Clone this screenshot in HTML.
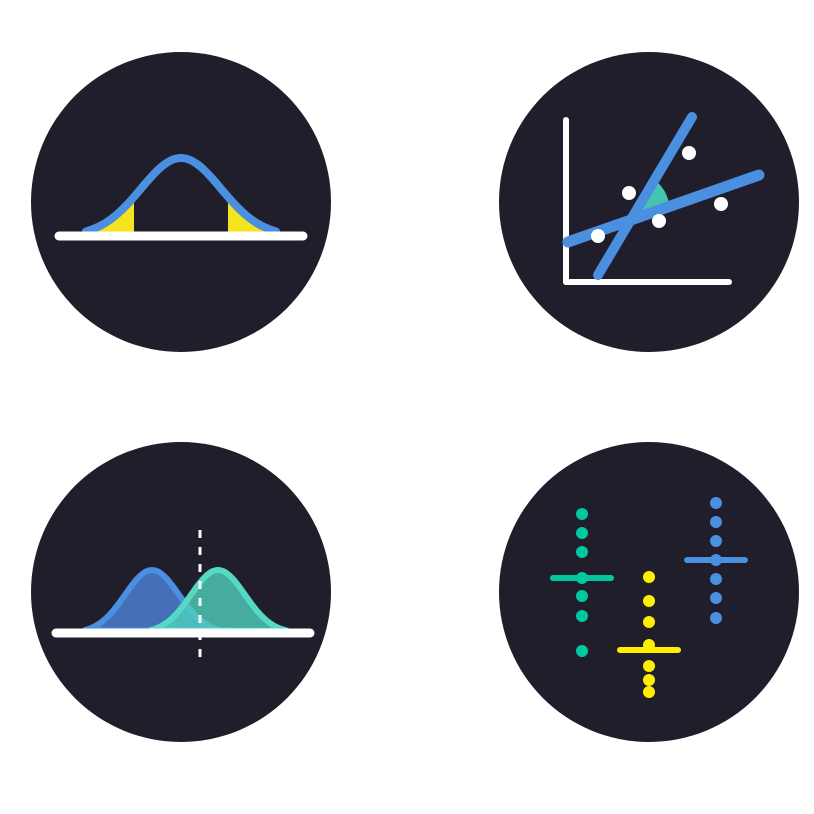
<!DOCTYPE html>
<html><head><meta charset="utf-8"><style>
html,body{margin:0;padding:0;background:#fff;width:814px;height:814px;overflow:hidden}
svg{display:block}
</style></head><body>
<svg id="s" width="814" height="814" viewBox="0 0 814 814">
<circle cx="181" cy="202" r="150" fill="#1f1e2a"/>
<circle cx="649" cy="202" r="150" fill="#1f1e2a"/>
<circle cx="181" cy="592" r="150" fill="#1f1e2a"/>
<circle cx="649" cy="592" r="150" fill="#1f1e2a"/>
<g id="g1"></g>
<g id="g2">
<line x1="566" y1="120" x2="566" y2="282" stroke="#fff" stroke-width="6" stroke-linecap="round"/>
<line x1="566" y1="282" x2="729" y2="282" stroke="#fff" stroke-width="6" stroke-linecap="round"/>
<path d="M628,218 L652,178 A40,40 0 0 1 669,203 Z" fill="#45c4b0"/>
<line x1="598" y1="275" x2="692" y2="117" stroke="#4a8fe0" stroke-width="10" stroke-linecap="round"/>
<line x1="568" y1="242" x2="759" y2="175" stroke="#4a8fe0" stroke-width="11" stroke-linecap="round"/>
</g>
<g id="g3"></g>
<g id="g4"></g>
</svg>
<script>
const NS='http://www.w3.org/2000/svg';
const scatterX=[598,629,659,689,721];
const scatterY=[236,193,221,153,204];
const groupNames=['teal','yellow','blue'];
const groupColors=['#00c9a0','#ffee00','#4a8fe0'];
const groupX=[582,649,716];
const groupDots=[[514,533,552,578,596,616,651],[577,601,622,645,666,680,692],[503,522,541,560,579,598,618]];
const groupMeans=[578,650,560];
function mk(t,a,p){const e=document.createElementNS(NS,t);for(const k in a)e.setAttribute(k,a[k]);p.appendChild(e);return e;}
function gauss(cx,peakY,baseY,sd,x0,x1){let d='';for(let x=x0;x<=x1;x+=2){const y=baseY-(baseY-peakY)*Math.exp(-((x-cx)**2)/(2*sd*sd));d+=(d?'L':'M')+x+','+y.toFixed(1);}return d;}
// icon 1
const g1=document.getElementById('g1');
const SD=40;
const bell=gauss(181,158,236,SD,86,276);
const yl=mk('path',{d:gauss(181,158,236,SD,86,134)+'L134,236L86,236Z',fill:'#f5e31c'},g1);


const yr=mk('path',{d:'M228,236'+gauss(181,158,236,SD,228,276).replace('M','L')+'L276,236Z',fill:'#f5e31c'},g1);


const bc=mk('path',{d:bell,fill:'none',stroke:'#4a8fe0','stroke-width':8,'stroke-linecap':'round'},g1);


const b1=mk('line',{x1:59,y1:236,x2:303,y2:236,stroke:'#fff','stroke-width':9,'stroke-linecap':'round'},g1);


// icon 2 points
const g2=document.getElementById('g2');
scatterX.forEach((x,i)=>{const c=mk('circle',{cx:x,cy:scatterY[i],r:7,fill:'#fff'},g2);

});
// icon 3
const g3=document.getElementById('g3');
const c1=mk('path',{d:gauss(152,570,633,27,84,222)+'Z',fill:'#4570b8',stroke:'#4a8fe0','stroke-width':6},g3);


const c2=mk('path',{d:gauss(218,570,633,27,150,288)+'Z',fill:'#4fcfbd','fill-opacity':0.8,stroke:'#55d9c4','stroke-width':6},g3);


const b3=mk('line',{x1:56,y1:633,x2:310,y2:633,stroke:'#fff','stroke-width':9,'stroke-linecap':'round'},g3);


const dl=mk('line',{x1:200,y1:530,x2:200,y2:664,stroke:'#fff','stroke-width':3,'stroke-dasharray':'8 9'},g3);


// icon 4
const g4=document.getElementById('g4');
groupX.forEach((x,i)=>{
  groupDots[i].forEach(y=>{const c=mk('circle',{cx:x,cy:y,r:6,fill:groupColors[i]},g4);
  
  });
  const l=mk('line',{x1:x-29,y1:groupMeans[i],x2:x+29,y2:groupMeans[i],stroke:groupColors[i],'stroke-width':6,'stroke-linecap':'round'},g4);
  
  
});
</script>
</body></html>
